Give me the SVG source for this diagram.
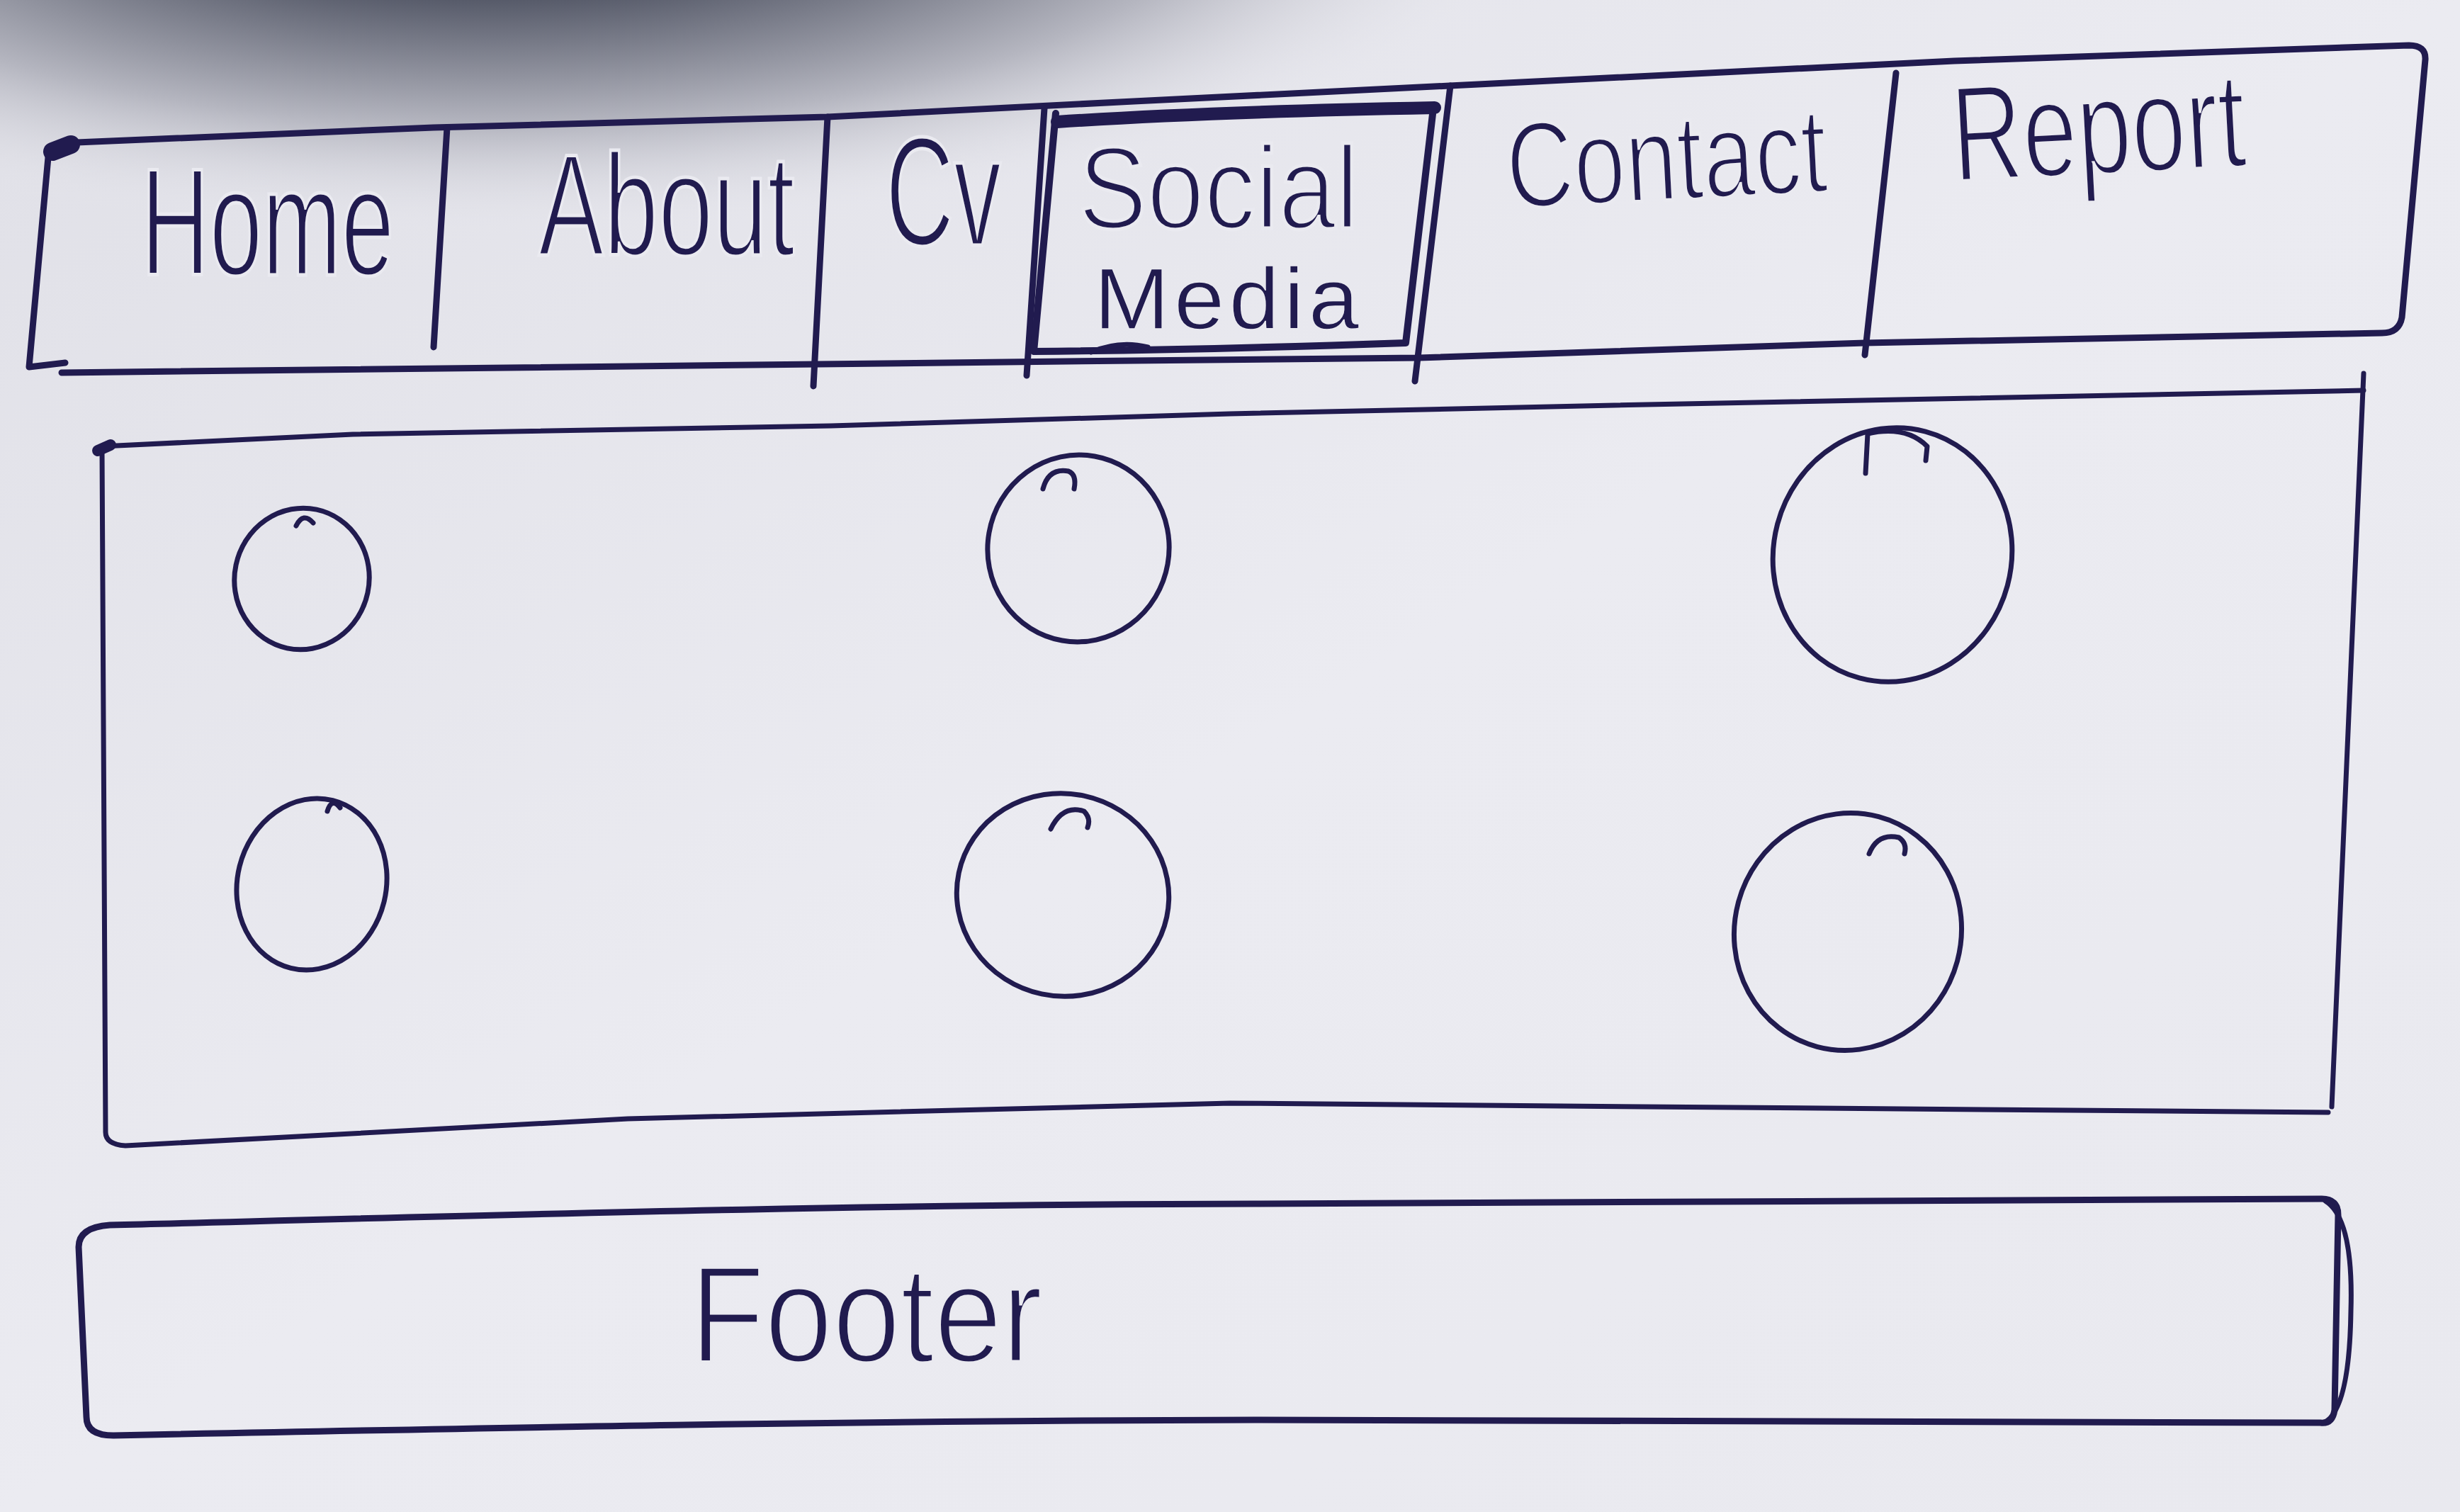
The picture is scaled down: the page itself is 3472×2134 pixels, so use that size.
<svg xmlns="http://www.w3.org/2000/svg" width="3472" height="2134" viewBox="0 0 3472 2134">
  <defs>
    <radialGradient id="shade" cx="700" cy="-180" r="1500" gradientUnits="userSpaceOnUse" gradientTransform="translate(700 -180) scale(1 0.34) translate(-700 180)">
      <stop offset="0" stop-color="#2a2d3b"/>
      <stop offset="0.35" stop-color="#565a69"/>
      <stop offset="0.7" stop-color="#b5b6c0"/>
      <stop offset="1" stop-color="#e9e9ef" stop-opacity="0"/>
    </radialGradient>
    <linearGradient id="paper" x1="0" y1="0" x2="1" y2="1">
      <stop offset="0" stop-color="#e0e0e7"/>
      <stop offset="0.5" stop-color="#ebebf1"/>
      <stop offset="1" stop-color="#e9e9ef"/>
    </linearGradient>
  </defs>
  <style>
    .ink { fill: none; stroke: #211b4f; stroke-linecap: round; stroke-linejoin: round; }
    .box { stroke-width: 9; }
    .thin { stroke-width: 7; }
    .hand { fill: #211b4f; stroke: #eaeaf0; stroke-width: 5; paint-order: normal; font-family: "Liberation Sans", "DejaVu Sans", sans-serif; }
    .small { stroke-width: 1.5; }
  </style>

  <rect width="3472" height="2134" fill="url(#paper)"/>
  <rect width="3472" height="700" fill="url(#shade)"/>

  <g id="navbar">
    <path class="ink box" d="M 85,202 L 612,180 L 1168,165 L 1600,143 L 2046,121 L 2758,86 L 3400,64 Q 3424,64 3423,84 L 3390,448 Q 3386,470 3362,470 L 2632,484 L 2003,505 L 1600,509 L 87,526"/>
    <path class="ink box" d="M 85,202 Q 68,206 68,222 L 41,518 L 92,512"/>
    <path class="ink" stroke-width="26" d="M 74,214 L 100,204"/>
    <g id="tab-home">
      <path class="ink box" d="M 631,180 L 612,490"/>
      <text class="hand" font-size="215" transform="translate(199 388) scale(0.623 1)">Home</text>
    </g>
    <g id="tab-about">
      <path class="ink box" d="M 1168,165 L 1148,545"/>
      <text class="hand" font-size="205" transform="translate(760 360) scale(0.675 1)">About</text>
    </g>
    <g id="tab-cv">
      <path class="ink box" d="M 1474,153 L 1449,530"/>
      <text class="hand" font-size="220" transform="translate(1250 346) scale(0.606 1)">Cv</text>
    </g>
    <g id="tab-social-media">
      <path class="ink" stroke-width="10" d="M 1490,160 L 1459,496 Q 1700,494 1984,484 L 2022,161"/>
      <path class="ink" stroke-width="18" d="M 1492,172 Q 1700,158 2025,152"/>
      <path class="ink" stroke-width="7" d="M 1540,497 Q 1580,480 1620,490"/>
      <text class="hand" font-size="165" transform="translate(1522 322) scale(0.88 1)">Social</text>
      <text class="hand small" font-size="122" letter-spacing="6" transform="translate(1544 464) scale(1.05 1)">Media</text>
    </g>
    <g id="tab-contact">
      <path class="ink box" d="M 2047,121 L 1997,538"/>
      <text class="hand" font-size="172" transform="translate(2129 294) rotate(-3) scale(0.764 1)">Contact</text>
    </g>
    <g id="tab-report">
      <path class="ink box" d="M 2676,103 L 2632,501"/>
      <text class="hand" font-size="192" transform="translate(2758 256) rotate(-3) scale(0.72 1)">Report</text>
    </g>
  </g>

  <g id="content">
    <path class="ink thin" d="M 144,630 L 498,613 L 1173,601 L 1736,584 L 2278,572 L 3336,551"/>
    <path class="ink thin" d="M 3336,527 L 3291,1562"/>
    <path class="ink thin" d="M 3286,1570 L 2090,1560 L 1736,1557 L 886,1579 L 177,1617 Q 149,1615 149,1598 L 144,632"/>
    <path class="ink" stroke-width="16" d="M 138,636 L 156,628"/>
    <g id="item-1">
      <ellipse class="ink thin" cx="426" cy="817" rx="95" ry="100" transform="rotate(12 426 817)"/>
      <path class="ink thin" d="M 418,742 Q 428,722 442,738"/>
    </g>
    <g id="item-2">
      <ellipse class="ink thin" cx="1522" cy="774" rx="128" ry="132" transform="rotate(10 1522 774)"/>
      <path class="ink thin" d="M 1472,690 Q 1480,660 1508,665 Q 1520,670 1516,690"/>
    </g>
    <g id="item-3">
      <ellipse class="ink thin" cx="2671" cy="783" rx="168" ry="180" transform="rotate(15 2671 783)"/>
      <path class="ink thin" d="M 2633,668 L 2636,612 Q 2690,600 2720,630 L 2718,650"/>
    </g>
    <g id="item-4">
      <ellipse class="ink thin" cx="440" cy="1248" rx="105" ry="122" transform="rotate(14 440 1248)"/>
      <path class="ink thin" d="M 462,1145 Q 468,1125 480,1140"/>
    </g>
    <g id="item-5">
      <ellipse class="ink thin" cx="1500" cy="1263" rx="150" ry="143" transform="rotate(12 1500 1263)"/>
      <path class="ink thin" d="M 1483,1170 Q 1500,1135 1530,1145 Q 1540,1155 1535,1168"/>
    </g>
    <g id="item-6">
      <ellipse class="ink thin" cx="2608" cy="1315" rx="160" ry="168" transform="rotate(15 2608 1315)"/>
      <path class="ink thin" d="M 2638,1205 Q 2650,1175 2680,1182 Q 2692,1190 2688,1205"/>
    </g>
  </g>

  <g id="footer">
    <path class="ink box" d="M 155,1729 C 700,1715 1200,1700 1771,1699 L 3277,1692 Q 3300,1692 3300,1715 L 3295,1990 Q 3292,2010 3275,2008 L 1771,2004 C 1200,2005 700,2015 160,2026 Q 122,2026 122,2000 L 111,1760 Q 111,1732 155,1729 Z"/>
    <path class="ink" stroke-width="7" d="M 3282,1695 Q 3322,1720 3318,1850 Q 3316,1990 3280,2008"/>
    <text class="hand" font-size="195" transform="translate(974 1922) scale(0.883 1)">Footer</text>
  </g>
</svg>
